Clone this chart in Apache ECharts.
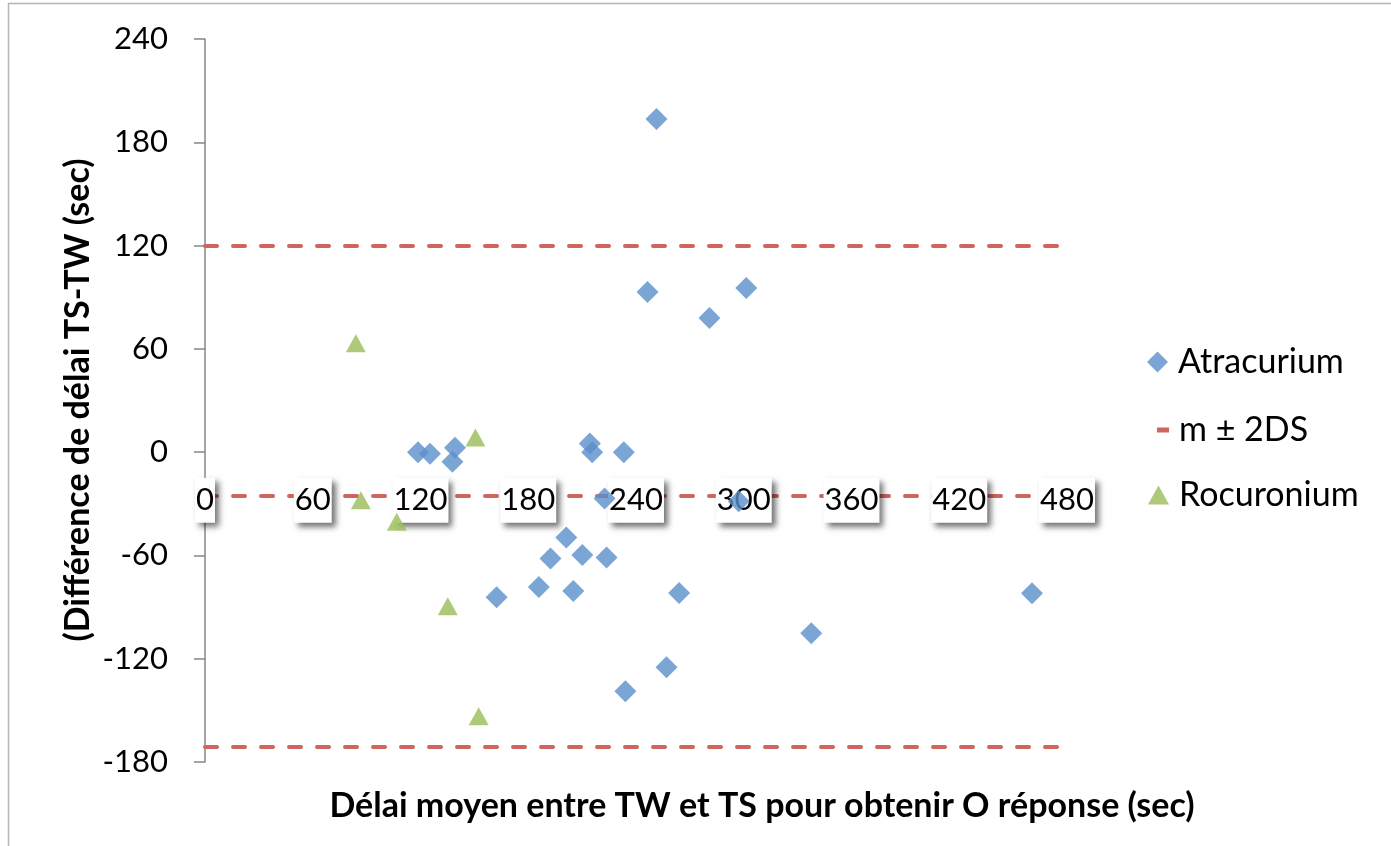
<!DOCTYPE html>
<html>
<head>
<meta charset="utf-8">
<script src="https://cdn.jsdelivr.net/npm/echarts@6/dist/echarts.min.js"></script>
<style>
html,body{margin:0;padding:0;background:#fff;}
#chart{width:1391px;height:846px;}
</style>
</head>
<body>
<div id="chart"></div>
<script>
// ---- data ----
const atracuriumX = [118.6,125.3,139.2,137.8,214.3,215.6,233.2,222.5,297.2,251.4,246.4,301.4,280.9,201.2,192.4,210.1,223.6,185.9,205.1,162.4,264.0,460.5,337.6,257.0,234.1];
const atracuriumY = [0,-1,2.5,-5.6,5,0,0,-26.9,-28.5,193.5,93,95.3,77.9,-49.6,-61.8,-59.8,-61.2,-78.3,-80.6,-84.3,-81.8,-81.9,-105.2,-124.9,-138.9];
const rocuroniumX = [84.0,150.6,86.8,106.8,135.2,152.4];
const rocuroniumY = [63.3,8.5,-27.9,-40.5,-89.5,-153.4];
const meanDiff = -25.6;
const limitLines = [120, meanDiff, -171.2];
const xTicks = [0,60,120,180,240,300,360,420,480];
const yTicks = [-180,-120,-60,0,60,120,180,240];
const seriesNames = ['Atracurium','m ± 2DS','Rocuronium'];
const xTitle = 'Délai moyen entre TW et TS pour obtenir O réponse (sec)';
const yTitle = '(Différence de délai TS-TW (sec)';

const BLUE = '#5A8FCB', GREEN = '#9BBB59', RED = '#D0645E';
const FONT = 'Lato';

const zip = (xs, ys) => xs.map((x, i) => [x, ys[i]]);

const chart = echarts.init(document.getElementById('chart'), null, {renderer: 'canvas'});
const xMin = xTicks[0], xMax = xTicks[xTicks.length-1];
const yMin = yTicks[0], yMax = yTicks[yTicks.length-1];

const legendText = {fontFamily: FONT, fontSize: 34, color: '#000', lineHeight: 38, padding: [0,0,0,5]};

const option = {
  backgroundColor: '#fff',
  animation: false,
  grid: {left: 205, right: 324, top: 39, bottom: 84, containLabel: false},
  xAxis: {
    type: 'value', min: xMin, max: xMax, interval: 60, z: 2,
    axisLine: {show: true, onZero: true, onZeroAxisIndex: 1, lineStyle: {color: 'rgba(0,0,0,0)'}},
    axisTick: {show: false},
    splitLine: {show: false},
    axisLabel: {
      fontFamily: FONT, fontSize: 31, color: '#000',
      backgroundColor: '#fff', padding: [6,1,6,1], lineHeight: 33,
      shadowColor: 'rgba(0,0,0,0.55)', shadowBlur: 6, shadowOffsetX: 4, shadowOffsetY: 4,
      verticalAlign: 'middle', margin: 4
    }
  },
  yAxis: [{
    type: 'value', min: yMin, max: yMax, interval: 60,
    axisLine: {show: true, onZero: false, lineStyle: {color: '#878787', width: 1.5}},
    axisTick: {show: true, length: 11, lineStyle: {color: '#878787', width: 1.5}},
    splitLine: {show: false},
    axisLabel: {fontFamily: FONT, fontSize: 31, color: '#000', margin: 37}
  }, {
    type: 'value', position: 'right', min: yMin - meanDiff, max: yMax - meanDiff,
    axisLine: {show: false, onZero: false}, axisTick: {show: false}, axisLabel: {show: false}, splitLine: {show: false}
  }],
  legend: [
    {data: [{name: seriesNames[0], icon: 'diamond'}], left: 1147, top: 343, itemWidth: 21, itemHeight: 21, padding: 0, textStyle: legendText, selectedMode: false},
    {data: [{name: seriesNames[1], icon: 'rect'}], left: 1157, top: 411, itemWidth: 12, itemHeight: 5, padding: 0, textStyle: legendText, selectedMode: false},
    {data: [{name: seriesNames[2], icon: 'triangle'}], left: 1148, top: 476, itemWidth: 21, itemHeight: 19, padding: 0, textStyle: legendText, selectedMode: false}
  ],
  graphic: [
    {type: 'rect', shape: {x: 8.5, y: 3.5, width: 1420, height: 900}, style: {fill: 'none', stroke: '#b5b5b5', lineWidth: 1.5}, silent: true, z: -1},
    {type: 'text', x: 762, y: 806, style: {text: xTitle, font: 'bold 34px ' + FONT, fill: '#000', textAlign: 'center', textVerticalAlign: 'middle'}},
    {type: 'text', x: 78, y: 400, rotation: Math.PI/2, style: {text: yTitle, font: 'bold 34px ' + FONT, fill: '#000', textAlign: 'center', textVerticalAlign: 'middle'}}
  ],
  series: [
    {
      name: seriesNames[0], type: 'scatter', z: 3,
      symbol: 'diamond', symbolSize: [22, 22],
      itemStyle: {color: BLUE},
      data: zip(atracuriumX, atracuriumY)
    },
    {
      name: seriesNames[1], type: 'line', z: 1,
      itemStyle: {color: RED}, lineStyle: {color: RED},
      data: [],
      markLine: {
        z: 1, silent: true, symbol: 'none', label: {show: false},
        lineStyle: {color: RED, width: 4, type: [12, 16], cap: 'round'},
        data: limitLines.map(v => ({yAxis: v}))
      }
    },
    {
      name: seriesNames[2], type: 'scatter', z: 3,
      symbol: 'triangle', symbolSize: [20, 18],
      itemStyle: {color: GREEN},
      data: zip(rocuroniumX, rocuroniumY)
    }
  ]
};
chart.setOption(option);

// Fallback: if the axis did not cross at the mean line, move it there using the y scale.
const xAxisModel = chart.getModel().getComponent('xAxis', 0);
if (!(xAxisModel && xAxisModel.axis && xAxisModel.axis.onZero)) {
  const pMean = chart.convertToPixel({yAxisIndex: 0}, meanDiff);
  const pBottom = chart.convertToPixel({yAxisIndex: 0}, yMin);
  chart.setOption({xAxis: {axisLine: {onZero: false}, offset: pMean - pBottom}});
}
</script>
</body>
</html>
